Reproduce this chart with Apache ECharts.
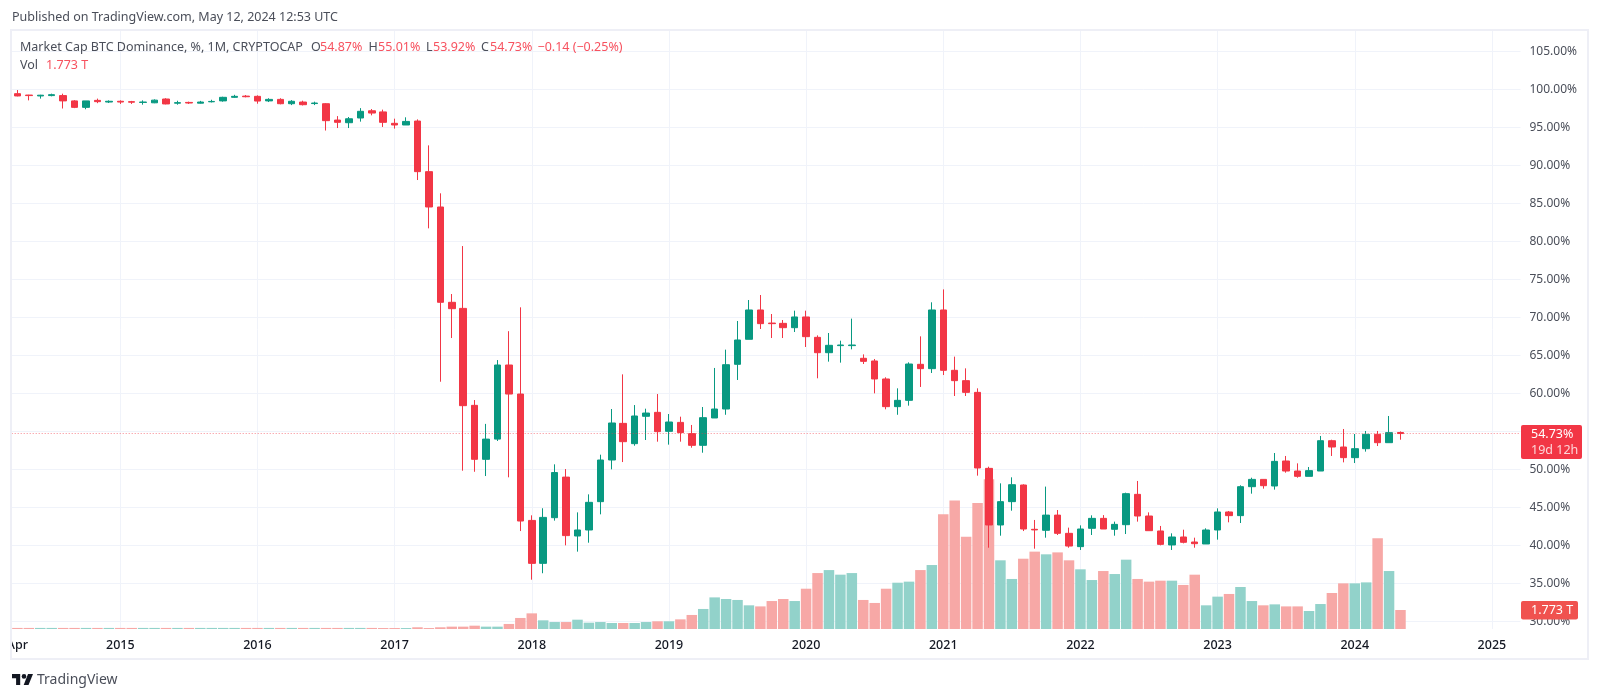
<!DOCTYPE html>
<html lang="en">
<head>
<meta charset="UTF-8">
<title>Market Cap BTC Dominance</title>
<script src="https://cdn.jsdelivr.net/npm/echarts@6/dist/echarts.min.js"></script>
<style>
  html, body { margin: 0; padding: 0; background: #fff; }
  #dv { width: 1600px; height: 699px; }
</style>
</head>
<body>
<div id="dv"></div>
<script>
var months = [
  '2014-04','2014-05','2014-06','2014-07','2014-08','2014-09','2014-10','2014-11','2014-12',
  '2015-01','2015-02','2015-03','2015-04','2015-05','2015-06','2015-07','2015-08','2015-09','2015-10','2015-11','2015-12',
  '2016-01','2016-02','2016-03','2016-04','2016-05','2016-06','2016-07','2016-08','2016-09','2016-10','2016-11','2016-12',
  '2017-01','2017-02','2017-03','2017-04','2017-05','2017-06','2017-07','2017-08','2017-09','2017-10','2017-11','2017-12',
  '2018-01','2018-02','2018-03','2018-04','2018-05','2018-06','2018-07','2018-08','2018-09','2018-10','2018-11','2018-12',
  '2019-01','2019-02','2019-03','2019-04','2019-05','2019-06','2019-07','2019-08','2019-09','2019-10','2019-11','2019-12',
  '2020-01','2020-02','2020-03','2020-04','2020-05','2020-06','2020-07','2020-08','2020-09','2020-10','2020-11','2020-12',
  '2021-01','2021-02','2021-03','2021-04','2021-05','2021-06','2021-07','2021-08','2021-09','2021-10','2021-11','2021-12',
  '2022-01','2022-02','2022-03','2022-04','2022-05','2022-06','2022-07','2022-08','2022-09','2022-10','2022-11','2022-12',
  '2023-01','2023-02','2023-03','2023-04','2023-05','2023-06','2023-07','2023-08','2023-09','2023-10','2023-11','2023-12',
  '2024-01','2024-02','2024-03','2024-04','2024-05','2024-06','2024-07','2024-08','2024-09','2024-10','2024-11','2024-12',
  '2025-01','2025-02','2025-03'
]
var opens = [
  99.45,99.27,99.15,99.2,99.2,98.5,97.65,98.57,98.35,98.45,98.4,98.3,98.25,98.75,98.2,98.3,98.2,98.38,98.5,98.97,99.13,
  99.1,98.5,98.7,98.13,98.35,98.15,98.13,95.98,95.63,96.25,97.2,97.05,95.55,95.33,95.85,89.19,84.54,72.0,71.2,58.44,51.34,54.0,63.75,59.93,
  43.3,37.65,43.66,49.0,41.25,42.04,45.77,51.25,56.07,53.4,57.0,57.52,55.02,
  56.2,54.72,53.18,56.78,57.96,63.84,67.13,70.99,69.27,69.23,68.66,70.07,67.39,65.37,66.3,66.3,64.63,64.28,61.91,58.27,59.1,63.84,63.27,
  70.99,63.05,61.69,60.15,50.15,42.7,45.77,47.96,42.13,42.0,44.0,41.6,39.85,42.26,43.57,42.13,42.74,46.73,43.88,41.91,40.07,41.12,40.46,40.2,
  42.04,44.41,43.93,47.74,48.7,47.83,51.12,49.8,49.1,49.8,53.79,52.96,51.56,52.74,54.63,53.53,54.87
]
var closes = [
  99.15,99.2,99.25,99.32,98.5,97.65,98.5,98.4,98.45,98.35,98.33,98.35,98.6,98.1,98.27,98.22,98.35,98.43,98.97,99.1,99.05,
  98.48,98.7,98.13,98.45,98.0,98.22,95.9,95.68,96.15,97.13,96.9,95.68,95.33,95.8,89.19,84.54,72.0,71.16,58.4,51.34,54.0,63.75,59.93,43.22,
  37.65,43.7,49.6,41.3,42.04,45.68,51.25,56.12,53.66,57.04,57.43,54.98,56.25,
  54.85,53.18,56.82,57.96,63.79,67.04,70.99,69.19,69.19,68.66,70.07,67.48,65.37,66.34,66.38,66.38,64.23,61.91,58.27,59.1,63.88,63.27,70.99,
  63.05,61.69,60.15,50.2,42.7,45.77,48.0,42.17,42.05,44.0,41.6,39.93,42.17,43.57,42.17,42.78,46.82,43.88,41.95,40.15,41.12,40.42,40.24,42.04,
  44.41,43.93,47.74,48.7,47.87,51.07,49.8,49.1,49.85,53.79,52.96,51.56,52.74,54.63,53.53,54.85,54.73
]
var highs = [
  99.93,99.3,99.3,99.45,99.45,98.6,98.5,98.8,98.57,98.57,98.5,98.57,98.7,98.85,98.52,98.4,98.5,98.65,99.05,99.3,99.27,
  99.23,98.85,98.85,98.6,98.53,98.4,98.2,96.5,96.38,97.55,97.43,97.35,96.16,96.34,96.07,92.65,86.34,73.09,79.4,59.14,56.0,64.4,68.2,71.34,
  43.97,44.9,50.68,50.06,44.36,46.73,51.95,57.96,62.52,58.48,58.0,59.93,57.3,
  56.95,55.86,58.22,63.36,65.77,69.54,72.3,72.96,70.46,69.67,70.9,70.9,67.65,67.96,66.95,69.85,65.15,64.54,62.13,60.68,64.1,67.52,72.0,
  73.7,64.85,63.31,60.68,50.37,48.18,48.97,48.05,43.36,47.75,44.67,42.35,42.65,43.97,44.0,43.14,46.95,48.49,44.36,42.57,41.6,42.08,41.03,42.26,
  44.89,44.54,47.92,48.92,48.7,52.17,51.78,50.81,50.33,54.41,53.92,55.33,54.67,55.07,55.07,57.04,55.01
]
var lows = [
  99.1,98.57,98.8,99.1,97.5,97.55,97.4,98.2,98.22,98.1,98.1,98.0,98.2,98.05,98.0,98.1,98.15,98.3,98.4,98.9,98.97,
  98.13,98.35,98.05,97.95,97.9,97.95,94.6,94.93,94.93,95.77,96.6,95.07,94.85,95.33,88.09,81.73,61.55,67.3,49.84,49.7,49.14,53.75,48.97,41.9,
  35.5,36.35,43.27,40.02,39.19,40.37,44.1,50.02,50.98,53.13,53.88,53.66,53.27,
  53.66,52.87,52.21,56.78,57.2,61.78,67.13,68.49,67.3,67.3,68.09,66.12,62.0,64.19,64.06,65.81,63.88,60.02,57.92,57.2,58.4,60.86,62.7,
  62.43,59.67,59.67,49.19,39.71,41.29,44.58,41.9,39.58,41.03,41.38,39.71,39.41,41.38,42.17,41.29,41.51,43.14,41.95,40.02,39.41,40.28,39.71,40.2,
  40.77,43.05,42.96,46.82,47.48,47.35,49.58,48.92,49.1,49.8,51.78,50.94,50.85,52.35,53.09,53.53,53.92
]
// volume, trillions
var volumes = [
  0.1,0.1,0.1,0.1,0.1,0.1,0.1,0.1,0.1,0.1,0.1,0.1,0.1,0.1,0.1,0.1,0.1,0.1,0.1,0.1,0.1,
  0.1,0.1,0.1,0.1,0.1,0.1,0.1,0.1,0.1,0.1,0.1,0.09,0.09,0.09,0.16,0.09,0.16,0.22,0.22,0.31,0.22,0.22,0.47,1.03,
  1.46,0.81,0.65,0.65,0.87,0.59,0.65,0.56,0.56,0.56,0.65,0.72,0.72,
  0.9,1.31,1.87,2.95,2.8,2.71,2.21,2.11,2.61,2.8,2.61,3.76,5.22,5.5,5.07,5.22,2.71,2.43,3.76,4.32,4.42,5.5,5.97,
  10.7,12.0,8.61,11.76,13.97,6.41,4.67,6.56,7.22,6.97,7.15,6.41,5.57,4.57,5.41,5.13,6.47,4.67,4.42,4.51,4.51,4.11,5.07,2.21,
  3.02,3.27,3.92,2.61,2.21,2.3,2.11,2.11,1.68,2.33,3.36,4.26,4.26,4.35,8.46,5.41,1.773
]
var lastClose = closes[closes.length - 1]

var upColor = '#089981', downColor = '#f23645'
var upVol = '#92d2ca', downVol = '#f7a8a6'
var gridColor = '#f0f3fa'
var textColor = '#4a4e59'
var font = '"Noto Sans", sans-serif'

var candles = opens.map(function (o, i) { return [o, closes[i], lows[i], highs[i]] })
var volBars = volumes.map(function (v, i) {
  return { value: v, itemStyle: { color: closes[i] >= opens[i] ? upVol : downVol } }
})
var yearLines = months.filter(function (m) { return m.slice(5) === '01' })
  .map(function (m) { return { xAxis: m } })

var myChart = echarts.init(document.getElementById('dv'))

function headText(x, y, text, color) {
  return { type: 'text', x: x, y: y, z: 60, style: { text: text, fill: color, font: '12.5px ' + font, verticalAlign: 'middle' } }
}

var option = {
  animation: false,
  backgroundColor: '#fff',
  // price grid runs 105..30, volume grid fills the whole pane under it
  grid: [
    { left: 11.7, width: 1508.8, top: 51.5, height: 570 },
    { left: 11.7, width: 1508.8, top: 30, height: 599 }
  ],
  xAxis: [{
    type: 'category', gridIndex: 0, data: months, show: false
  }, {
    type: 'category', gridIndex: 1, data: months,
    axisLine: { show: false }, axisTick: { show: false }, splitLine: { show: false },
    axisLabel: {
      margin: 10, fontSize: 12.5, fontWeight: 500, fontFamily: font, color: '#131722',
      interval: function (i, v) { return i === 0 || v.slice(5) === '01' },
      formatter: function (v, i) { return i === 0 ? 'Apr' : v.slice(0, 4) }
    }
  }],
  yAxis: [{
    type: 'value', gridIndex: 0, position: 'right', min: 30, max: 105, interval: 5, scale: true,
    axisLine: { show: false }, axisTick: { show: false },
    splitLine: { lineStyle: { color: gridColor, width: 1 } },
    axisLabel: {
      margin: 9, fontSize: 12, fontFamily: font, color: textColor,
      formatter: function (v) { return v.toFixed(2) + '%' }
    }
  }, {
    type: 'value', gridIndex: 1, min: 0, max: 55.9, show: false
  }],
  series: [{
    type: 'bar', name: 'Vol', xAxisIndex: 1, yAxisIndex: 1, z: 2,
    barWidth: 10.5, data: volBars,
    markLine: {
      silent: true, symbol: 'none', z: 1, animation: false,
      label: { show: false },
      lineStyle: { color: gridColor, width: 1, type: 'solid' },
      data: yearLines
    }
  }, {
    type: 'candlestick', name: 'BTC.D', xAxisIndex: 0, yAxisIndex: 0, z: 3,
    barWidth: 7, data: candles,
    itemStyle: { color: upColor, color0: downColor, borderColor: upColor, borderColor0: downColor, borderWidth: 1 },
    markLine: {
      silent: true, symbol: 'none', animation: false,
      label: { show: false },
      lineStyle: { color: '#f23645', width: 1, type: [1, 2], opacity: 0.6 },
      data: [{ yAxis: lastClose }]
    }
  }]
}
myChart.setOption(option)

// annotations around the plot, the price tag follows the last close
var tagTop = myChart.convertToPixel({ yAxisIndex: 0 }, lastClose) - 8.5
myChart.setOption({
  graphic: [
    { type: 'rect', z: 40, shape: { x: 11, y: 30, width: 1577, height: 629 }, style: { fill: 'none', stroke: '#eeeff6', lineWidth: 2 } },
    { type: 'rect', z: 41, shape: { x: 0, y: 634, width: 10, height: 22 }, style: { fill: '#fff' } },
    headText(12, 17, 'Published on TradingView.com, May 12, 2024 12:53 UTC', textColor),
    headText(20, 47, 'Market Cap BTC Dominance, %, 1M, CRYPTOCAP', textColor),
    headText(311, 47, 'O', textColor),
    headText(320, 47, '54.87%', '#f7525f'),
    headText(368.5, 47, 'H', textColor),
    headText(378, 47, '55.01%', '#f7525f'),
    headText(426, 47, 'L', textColor),
    headText(433, 47, '53.92%', '#f7525f'),
    headText(481, 47, 'C', textColor),
    headText(490, 47, '54.73%', '#f7525f'),
    headText(537.5, 47, '\u22120.14 (\u22120.25%)', '#f7525f'),
    headText(20, 65, 'Vol', textColor),
    headText(46, 65, '1.773 T', '#f7525f'),
    { type: 'rect', z: 50, shape: { x: 1521, y: tagTop, width: 61, height: 34, r: 2 }, style: { fill: '#f23645' } },
    { type: 'text', z: 51, x: 1531, y: tagTop + 9, style: { text: '54.73%', fill: '#fff', font: '12.5px ' + font, verticalAlign: 'middle' } },
    { type: 'text', z: 51, x: 1531, y: tagTop + 25, style: { text: '19d 12h', fill: '#fcd5d8', font: '12.5px ' + font, verticalAlign: 'middle' } },
    { type: 'rect', z: 50, shape: { x: 1521, y: 601, width: 57, height: 18.5, r: 2 }, style: { fill: '#f0524f' } },
    { type: 'text', z: 51, x: 1531, y: 610.5, style: { text: '1.773 T', fill: '#fff', font: '12.5px ' + font, verticalAlign: 'middle' } },
    // logo
    { type: 'polygon', z: 50, shape: { points: [[12, 674], [20.2, 674], [20.2, 685], [16.1, 685], [16.1, 678.3], [12, 678.3]] }, style: { fill: '#131722' } },
    { type: 'polygon', z: 50, shape: { points: [[28, 674], [33, 674], [28.5, 685], [23.7, 685]] }, style: { fill: '#131722' } },
    { type: 'circle', z: 50, shape: { cx: 24, cy: 676.4, r: 2.3 }, style: { fill: '#131722' } },
    { type: 'text', z: 50, x: 37, y: 680, style: { text: 'TradingView', fill: '#4a4e59', font: '14px ' + font, verticalAlign: 'middle' } }
  ]
})
</script>
</body>
</html>
